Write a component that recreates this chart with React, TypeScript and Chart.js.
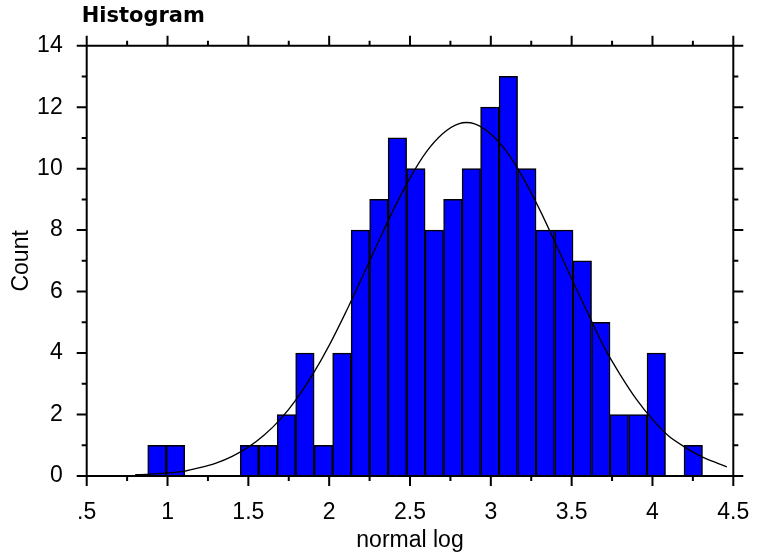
import { useEffect, useRef } from 'react';
import { Chart, registerables } from 'chart.js';

Chart.register(...registerables);

// ---- data ----
const chartTitle = 'Histogram';
const xAxisTitle = 'normal log';
const yAxisTitle = 'Count';

const binCenters = [
  0.9347, 1.0491, 1.1635, 1.2779, 1.3923, 1.5067, 1.6211, 1.7355, 1.8499, 1.9643,
  2.0787, 2.1931, 2.3075, 2.4219, 2.5363, 2.6507, 2.7651, 2.8795, 2.9939, 3.1083,
  3.2227, 3.3371, 3.4515, 3.5659, 3.6803, 3.7947, 3.9091, 4.0235, 4.1379, 4.2523,
];
const binCounts = [
  1, 1, 0, 0, 0, 1, 1, 2, 4, 1,
  4, 8, 9, 11, 10, 8, 9, 10, 12, 13,
  10, 8, 8, 7, 5, 2, 2, 4, 0, 1,
];

const curveX = [
  0.8, 0.9, 1.0, 1.1, 1.2, 1.3, 1.4, 1.5, 1.6, 1.7, 1.8, 1.9, 2.0, 2.1, 2.2, 2.3, 2.4, 2.5, 2.6,
  2.7, 2.8, 2.9, 3.0, 3.1, 3.2, 3.3, 3.4, 3.5, 3.6, 3.7, 3.8, 3.9, 4.0, 4.1, 4.2, 4.3, 4.4, 4.46,
];
const curveY = [
  0.04, 0.06, 0.1, 0.15, 0.27, 0.42, 0.64, 0.94, 1.34, 1.86, 2.52, 3.32, 4.25, 5.3, 6.42, 7.57,
  8.69, 9.7, 10.54, 11.13, 11.46, 11.46, 11.13, 10.54, 9.7, 8.69, 7.57, 6.42, 5.3, 4.2, 3.3,
  2.5, 1.84, 1.3, 0.94, 0.64, 0.42, 0.3,
];

const xTickValues = [0.5, 1, 1.5, 2, 2.5, 3, 3.5, 4, 4.5];
const xTickLabels = ['.5', '1', '1.5', '2', '2.5', '3', '3.5', '4', '4.5'];
const yTickValues = [0, 2, 4, 6, 8, 10, 12, 14];

const LABEL_FONT = '"Liberation Sans", Arial, sans-serif';

const frameTicksPlugin = {
  id: 'frameTicks',
  afterDatasetsDraw(chart: any) {
    const { ctx, chartArea, scales } = chart;
    const { left, right, top, bottom } = chartArea;
    const xs = scales.x;
    const ys = scales.y;
    const major = 10;
    const minor = 5;
    ctx.save();
    ctx.strokeStyle = '#000';
    ctx.lineWidth = 2;
    ctx.beginPath();
    ctx.rect(left, top, right - left, bottom - top);
    xTickValues.forEach((v, i) => {
      const px = xs.getPixelForValue(v);
      ctx.moveTo(px, bottom);
      ctx.lineTo(px, bottom + major);
      ctx.moveTo(px, top);
      ctx.lineTo(px, top - major);
      if (i < xTickValues.length - 1) {
        const mx = xs.getPixelForValue((v + xTickValues[i + 1]) / 2);
        ctx.moveTo(mx, bottom);
        ctx.lineTo(mx, bottom + minor);
        ctx.moveTo(mx, top);
        ctx.lineTo(mx, top - minor);
      }
    });
    yTickValues.forEach((v, i) => {
      const py = ys.getPixelForValue(v);
      ctx.moveTo(left, py);
      ctx.lineTo(left - major, py);
      ctx.moveTo(right, py);
      ctx.lineTo(right + major, py);
      if (i < yTickValues.length - 1) {
        const my = ys.getPixelForValue((v + yTickValues[i + 1]) / 2);
        ctx.moveTo(left, my);
        ctx.lineTo(left - minor, my);
        ctx.moveTo(right, my);
        ctx.lineTo(right + minor, my);
      }
    });
    ctx.stroke();

    ctx.fillStyle = '#000';
    ctx.font = 'bold 21px "DejaVu Sans", sans-serif';
    ctx.textAlign = 'left';
    ctx.textBaseline = 'alphabetic';
    ctx.fillText(chartTitle, left - 5, top - 24);
    ctx.restore();
  },
};

export default function App() {
  const canvasRef = useRef<HTMLCanvasElement | null>(null);

  useEffect(() => {
    if (!canvasRef.current) return;
    const barData = binCenters.map((x, i) => ({ x, y: binCounts[i] === 0 ? null : binCounts[i] }));
    const curveData = curveX.map((x, i) => ({ x, y: curveY[i] }));

    const chart = new Chart(canvasRef.current, {
      type: 'bar',
      data: {
        datasets: [
          {
            type: 'line',
            data: curveData as any,
            borderColor: '#000',
            borderWidth: 1.3,
            pointRadius: 0,
            fill: false,
            tension: 0.3,
            order: 0,
          } as any,
          {
            type: 'bar',
            data: barData as any,
            backgroundColor: '#0000FF',
            borderColor: '#000',
            borderWidth: 1.5,
            barPercentage: 1,
            categoryPercentage: 1,
            order: 1,
          } as any,
        ],
      },
      options: {
        responsive: false,
        animation: false,
        devicePixelRatio: 1,
        layout: { padding: { top: 45.7, right: 24.7, bottom: 0, left: 0 } },
        plugins: {
          legend: { display: false },
          tooltip: { enabled: false },
          title: { display: false },
        },
        scales: {
          x: {
            type: 'linear',
            min: 0.5,
            max: 4.5,
            offset: false,
            grid: { display: false, drawTicks: false },
            border: { display: false },
            afterBuildTicks: (scale: any) => {
              scale.ticks = xTickValues.map((v) => ({ value: v }));
            },
            afterFit: (scale: any) => {
              scale.height = 79;
              scale.paddingLeft = 0;
              scale.paddingRight = 0;
            },
            ticks: {
              autoSkip: false,
              maxRotation: 0,
              padding: 23,
              color: '#000',
              font: { family: LABEL_FONT, size: 23 },
              callback: (value: any) => {
                const idx = xTickValues.indexOf(Number(value));
                return idx >= 0 ? xTickLabels[idx] : '';
              },
            },
            title: {
              display: true,
              text: xAxisTitle,
              color: '#000',
              font: { family: LABEL_FONT, size: 23 },
              padding: { top: 0, bottom: 1 },
            },
          },
          y: {
            type: 'linear',
            min: 0,
            max: 14,
            grid: { display: false, drawTicks: false },
            border: { display: false },
            afterBuildTicks: (scale: any) => {
              scale.ticks = yTickValues.map((v) => ({ value: v }));
            },
            afterFit: (scale: any) => {
              scale.width = 86.7;
              scale.paddingTop = 0;
              scale.paddingBottom = 0;
            },
            ticks: {
              autoSkip: false,
              padding: 24,
              color: '#000',
              font: { family: LABEL_FONT, size: 23 },
              callback: (value: any) => String(value),
            },
            title: {
              display: true,
              text: yAxisTitle,
              color: '#000',
              font: { family: LABEL_FONT, size: 23 },
              padding: { top: 7.7, bottom: 0 },
            },
          },
        },
      },
      plugins: [frameTicksPlugin],
    });

    return () => chart.destroy();
  }, []);

  return (
    <div style={{ position: 'absolute', left: 0, top: 0, width: 758, height: 555, background: '#fff' }}>
      <canvas ref={canvasRef} width={758} height={555} style={{ display: 'block' }} />
    </div>
  );
}
